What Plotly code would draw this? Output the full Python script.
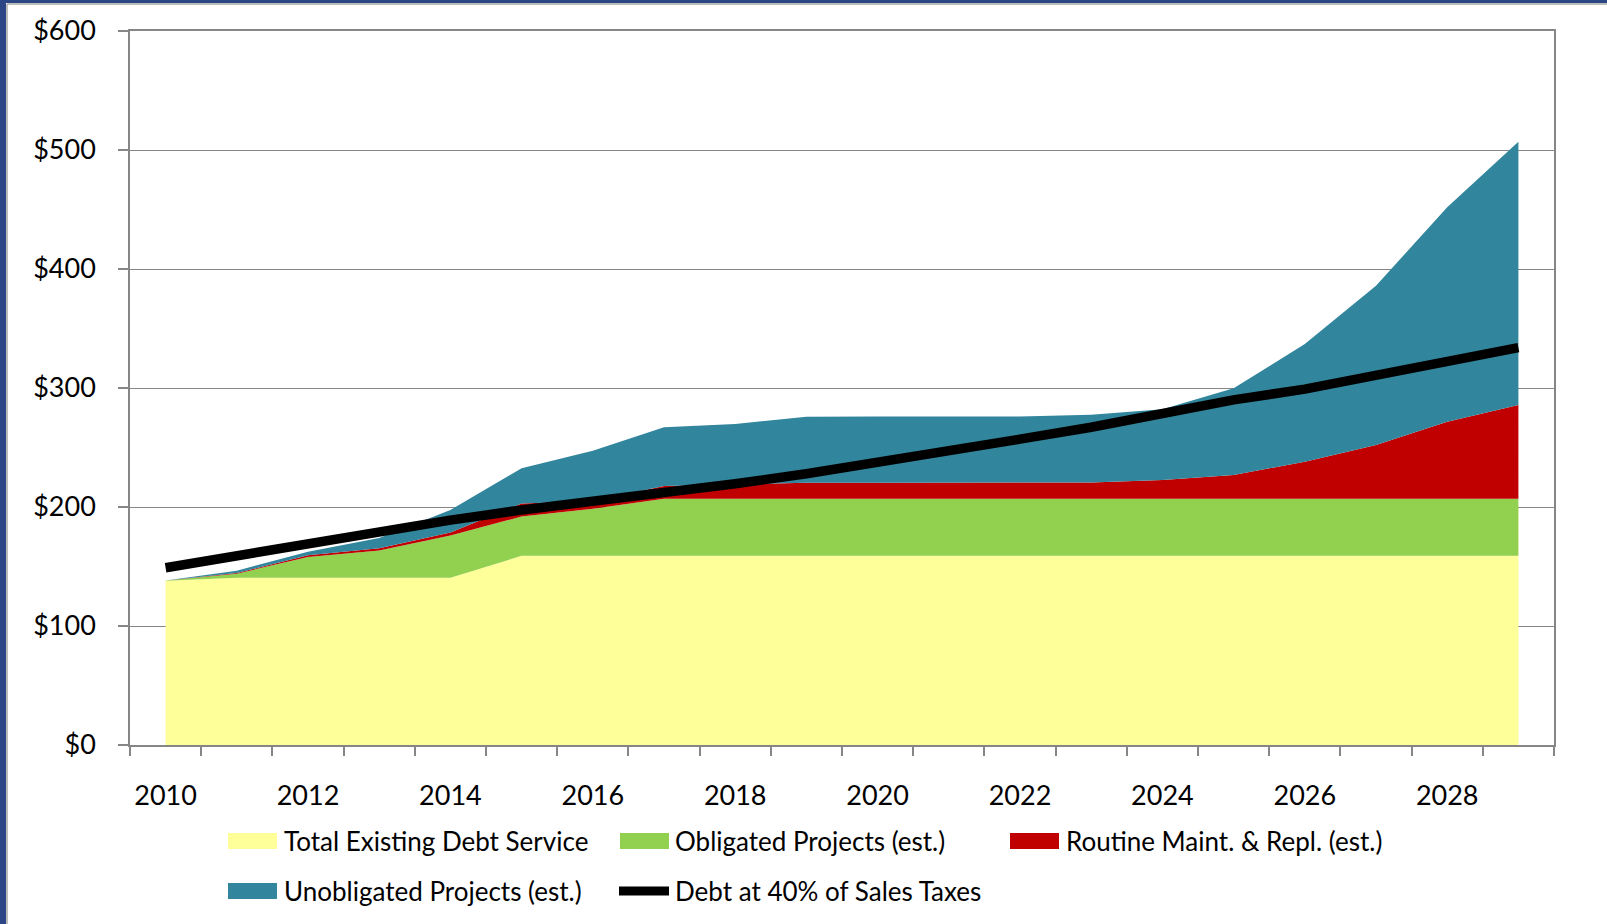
import plotly.graph_objects as go

# años y series (millones de $), apiladas en el orden del gráfico
years = list(range(2010, 2030))
existing_debt = [138, 140.5, 140.5, 140.5, 140.5, 159, 159, 159, 159, 159,
                 159, 159, 159, 159, 159, 159, 159, 159, 159, 159]
obligated = [0.3, 3.5, 17.5, 23, 35.5, 33, 39.5, 48, 48, 48,
             48, 48, 48, 48, 48, 48, 48, 48, 48, 48]
routine = [0, 0.5, 1.5, 1.8, 2.5, 11, 6.5, 10.6, 12, 13.4,
           13.4, 13.4, 13.4, 13.6, 15.7, 19.9, 31, 45, 64.7, 78.7]
unobligated = [0, 2, 3, 8.7, 19, 29.5, 42.3, 49.4, 50.7, 55.5,
               55.6, 55.6, 55.6, 57, 59.4, 72.8, 99, 133.9, 180.1, 221.3]
debt_40 = [149, 159.5, 169.5, 180, 189, 197.5, 204.5, 212, 219.5, 228,
           237, 247, 257, 267, 278.5, 290, 299, 311, 323, 334]

names = ["Total Existing Debt Service", "Obligated Projects (est.)",
         "Routine Maint. & Repl. (est.)", "Unobligated Projects (est.)",
         "Debt at 40% of Sales Taxes"]
colores = ["#FFFF99", "#92D050", "#C00000", "#31859C", "#000000"]
x_ticks = list(range(2010, 2030, 2))
y_ticks = [0, 100, 200, 300, 400, 500, 600]
y_labels = ["$0", "$100", "$200", "$300", "$400", "$500", "$600"]

W, H = 1607, 924
ML, MR, MT, MB = 130, 53, 31, 179
PW, PH = W - ML - MR, H - MT - MB
FUENTE = "Lato"
GRIS = "#868686"


def px_x(x):
    return (x - ML) / PW


def px_y(y):
    return (H - MB - y) / PH


fig = go.Figure()
for serie, nombre, color in zip([existing_debt, obligated, routine, unobligated], names, colores):
    fig.add_trace(go.Scatter(x=years, y=serie, name=nombre, stackgroup="one",
                             mode="lines", line=dict(width=0, color=color),
                             fillcolor=color, showlegend=False))
fig.add_trace(go.Scatter(x=years, y=debt_40, name=names[4], mode="lines",
                         line=dict(width=9.5, color="#000000"), showlegend=False))

# leyenda dibujada a mano: muestras + textos
shapes = []
annotations = []
leyenda = [
    (228, 841, 282, "rect"), (620, 841, 673, "rect"), (1010, 841, 1064, "rect"),
    (228, 891, 282, "rect"), (615, 891, 673, "line"),
]
for (sx, sy, tx, tipo), nombre, color in zip(leyenda, names, colores):
    if tipo == "rect":
        shapes.append(dict(type="rect", xref="paper", yref="paper",
                           x0=px_x(sx), x1=px_x(sx + 49), y0=px_y(sy + 8), y1=px_y(sy - 8),
                           fillcolor=color, line=dict(width=0)))
    else:
        shapes.append(dict(type="line", xref="paper", yref="paper",
                           x0=px_x(sx + 4), x1=px_x(sx + 54), y0=px_y(sy), y1=px_y(sy),
                           line=dict(color=color, width=9)))
    annotations.append(dict(text=nombre, xref="paper", yref="paper", x=px_x(tx), y=px_y(sy),
                            xanchor="left", yanchor="middle", showarrow=False,
                            font=dict(family=FUENTE, size=26, color="#000000")))

# bordes azules de la diapositiva
shapes += [
    dict(type="rect", xref="paper", yref="paper", x0=px_x(0), x1=px_x(6), y0=px_y(H), y1=px_y(0),
         fillcolor="#2C4584", line=dict(width=0), layer="below"),
    dict(type="rect", xref="paper", yref="paper", x0=px_x(0), x1=px_x(W), y0=px_y(3), y1=px_y(0),
         fillcolor="#2C4584", line=dict(width=0), layer="below"),
    dict(type="line", xref="paper", yref="paper", x0=px_x(7), x1=px_x(7), y0=px_y(H), y1=px_y(4),
         line=dict(color="#A6A6A6", width=1.5)),
    dict(type="line", xref="paper", yref="paper", x0=px_x(7), x1=px_x(W), y0=px_y(4), y1=px_y(4),
         line=dict(color="#A6A6A6", width=1.5)),
]

fig.update_layout(
    width=W, height=H,
    margin=dict(l=ML, r=MR, t=MT, b=MB, pad=0),
    paper_bgcolor="white", plot_bgcolor="white",
    font=dict(family=FUENTE, size=27, color="#000000"),
    showlegend=False,
    shapes=shapes,
    annotations=annotations,
)
fig.update_xaxes(range=[2009.5, 2029.5], tickmode="array", tickvals=x_ticks,
                 ticks="", showgrid=False, zeroline=False,
                 showline=True, linecolor=GRIS, linewidth=1.5, mirror=True,
                 ticklabelstandoff=26,
                 minor=dict(ticks="outside", tick0=2009.5, dtick=1, ticklen=9,
                            tickcolor=GRIS, tickwidth=1.5, showgrid=False))
fig.update_yaxes(range=[0, 600], tickmode="array", tickvals=y_ticks, ticktext=y_labels,
                 ticks="outside", ticklen=10, tickcolor=GRIS, tickwidth=1.5,
                 showgrid=True, gridcolor=GRIS, gridwidth=1.3, zeroline=False,
                 showline=True, linecolor=GRIS, linewidth=1.5, mirror=True,
                 ticklabelstandoff=17)

fig.write_html("out.html", config={"displayModeBar": False},
               post_script="document.body.style.margin='0px';")
